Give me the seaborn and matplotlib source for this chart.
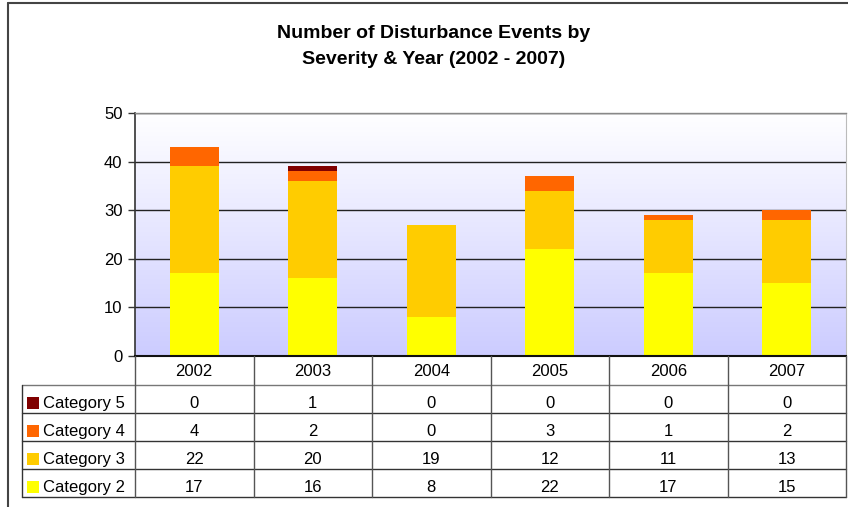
import numpy as np
import pandas as pd
import matplotlib
matplotlib.use("Agg")
import matplotlib.pyplot as plt
import matplotlib.transforms as mtransforms
from matplotlib.lines import Line2D
from matplotlib.patches import Rectangle
import seaborn as sns

# ---- data ----
years = ["2002", "2003", "2004", "2005", "2006", "2007"]
cat2 = [17, 16, 8, 22, 17, 15]
cat3 = [22, 20, 19, 12, 11, 13]
cat4 = [4, 2, 0, 3, 1, 2]
cat5 = [0, 1, 0, 0, 0, 0]
table_rows = ["Category 5", "Category 4", "Category 3", "Category 2"]
yticks = [0, 10, 20, 30, 40, 50]
title_lines = ["Number of Disturbance Events by", "Severity & Year (2002 - 2007)"]

series = {"Category 2": cat2, "Category 3": cat3, "Category 4": cat4, "Category 5": cat5}
colors = {"Category 2": "#FFFF00", "Category 3": "#FFCC00",
          "Category 4": "#FF6600", "Category 5": "#800000"}

sns.set_style("white")
plt.rcParams['font.family'] = ['Liberation Sans', 'DejaVu Sans']
plt.rcParams['text.color'] = 'black'
plt.rcParams['xtick.color'] = 'black'
plt.rcParams['ytick.color'] = 'black'
plt.rcParams['axes.labelcolor'] = 'black'

W, H = 848, 507
fig = plt.figure(figsize=(W / 100, H / 100), dpi=100)
fig.patch.set_facecolor("white")


def px(x0, y0, x1, y1):
    return [x0 / W, 1 - y1 / H, (x1 - x0) / W, (y1 - y0) / H]


ax = fig.add_axes(px(135, 113, 846, 356))

# gradient background
grad = np.linspace(0, 1, 256)[:, None]
top = np.array([1.0, 1.0, 1.0])
bot = np.array([204, 204, 255]) / 255.0
img = top[None, None, :] * (1 - grad[:, :, None]) + bot[None, None, :] * grad[:, :, None]
ax.imshow(img, extent=[-0.5, 5.5, 0, 50], aspect="auto", zorder=0, origin="upper")

# stacked bars via cumulative sums, drawn from tallest to shortest
order_stack = ["Category 2", "Category 3", "Category 4", "Category 5"]
cum = np.zeros(len(years))
cums = {}
for name in order_stack:
    cum = cum + np.array(series[name])
    cums[name] = cum.copy()
for name in reversed(order_stack):
    df = pd.DataFrame({"year": years, "value": cums[name]})
    sns.barplot(data=df, x="year", y="value", order=years, color=colors[name],
                saturation=1, width=0.41, edgecolor="none", linewidth=0,
                ax=ax, zorder=2)

ax.set_xlim(-0.5, 5.5)
ax.set_ylim(0, 50)
ax.set_yticks(yticks)
ax.set_xlabel("")
ax.set_ylabel("")
ax.set_axisbelow(True)
ax.yaxis.grid(True, color="#222222", linewidth=1, zorder=0.5)
ax.xaxis.grid(False)
ax.tick_params(axis="y", length=5, width=1, color="#333333", direction="out",
               labelsize=12, labelcolor="black", pad=4, left=True)
ax.tick_params(axis="x", length=0, labelsize=12, labelcolor="black", pad=6)
ax.spines["left"].set_color("#333333")
ax.spines["left"].set_linewidth(1.2)
ax.spines["bottom"].set_color("#111111")
ax.spines["bottom"].set_linewidth(1.5)
ax.spines["top"].set_color("#888888")
ax.spines["top"].set_linewidth(1)
ax.spines["right"].set_color("#bbbbbb")
ax.spines["right"].set_linewidth(0.8)

# transforms: pixel coords (from top-left) and blended data-x / pixel-y
pix = mtransforms.Affine2D().scale(1 / W, -1 / H).translate(0, 1) + fig.transFigure
blend = mtransforms.blended_transform_factory(ax.transData, pix)

# data table
row_edges = [385, 413, 441, 469, 497]
line_col = "#333333"
for i, yv in enumerate(row_edges):
    fig.add_artist(Line2D([22, 846], [yv, yv], transform=pix,
                          color="#777777" if i == 0 else line_col, linewidth=1))
fig.add_artist(Line2D([22, 22], [385, 497], transform=pix, color=line_col, linewidth=1))
for k in range(len(years) + 1):
    xk = k - 0.5
    fig.add_artist(Line2D([xk, xk], [356, 497], transform=blend,
                          color="#555555", linewidth=1))

for r, name in enumerate(table_rows):
    yc = (row_edges[r] + row_edges[r + 1]) / 2 + 3.5
    fig.add_artist(Rectangle((27, yc + 6), 12, -12, transform=pix,
                             facecolor=colors[name], edgecolor="none"))
    fig.text(43, yc + 1, name, transform=pix, ha="left", va="center", fontsize=12)
    for j, v in enumerate(series[name]):
        fig.text(j, yc + 1, str(v), transform=blend, ha="center", va="center", fontsize=12)

# title
fig.text(434, 33, title_lines[0], transform=pix, ha="center", va="center",
         fontsize=14, fontweight="bold")
fig.text(434, 60, title_lines[1], transform=pix, ha="center", va="center",
         fontsize=14, fontweight="bold")

# outer chart border (cropped at right/bottom)
fig.add_artist(Line2D([8, 848], [3, 3], transform=pix, color="#444444", linewidth=1.5))
fig.add_artist(Line2D([8, 8], [3, 507], transform=pix, color="#444444", linewidth=1.5))

fig.savefig("out.png", dpi=100)
